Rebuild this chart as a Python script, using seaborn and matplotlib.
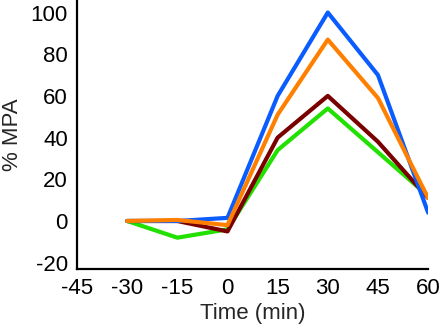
import matplotlib
matplotlib.use("Agg")
import matplotlib.pyplot as plt
import seaborn as sns
import pandas as pd

time_min = [-30, -15, 0, 15, 30, 45, 60]
series_names = ["green", "maroon", "blue", "orange"]
green_vals = [0, -8, -4, 34, 54, 33, 12]
maroon_vals = [0, 0, -5, 40, 60, 38, 11]
blue_vals = [0, 0, 1.5, 60, 100, 70, 4]
orange_vals = [0, 0.5, -2, 51, 87, 59, 11]
colors = ["#22e000", "#7a0000", "#0a5cff", "#ff8000"]

sns.set_theme(style="ticks")
plt.rcParams["font.family"] = ["Liberation Sans", "DejaVu Sans"]
plt.rcParams["axes.unicode_minus"] = False

rows = []
for name, vals in zip(series_names, [green_vals, maroon_vals, blue_vals, orange_vals]):
    for t, v in zip(time_min, vals):
        rows.append({"time": t, "mpa": v, "series": name})
df = pd.DataFrame(rows)

fig = plt.figure(figsize=(4.4, 3.26), dpi=100)
ax = fig.add_axes([0.175, 0.175, 0.798, 0.825])

sns.lineplot(data=df, x="time", y="mpa", hue="series", hue_order=series_names,
             palette=colors, linewidth=3, legend=False, ax=ax, sort=False)

ax.set_xlim(-45, 60)
ax.set_ylim(-23, 106)
ax.set_xticks([-45, -30, -15, 0, 15, 30, 45, 60])
ax.set_yticks([-20, 0, 20, 40, 60, 80, 100])
ax.tick_params(axis="both", length=0, labelsize=16, pad=6.5, colors="black")
ax.set_xlabel("Time (min)", fontsize=16, labelpad=3)
ax.set_ylabel("% MPA", fontsize=16, labelpad=5.5)
for side in ["top", "right"]:
    ax.spines[side].set_visible(False)
for side in ["left", "bottom"]:
    ax.spines[side].set_linewidth(1.6)
    ax.spines[side].set_color("black")
    ax.spines[side].set_clip_on(False)

fig.savefig("out.png", dpi=100)
